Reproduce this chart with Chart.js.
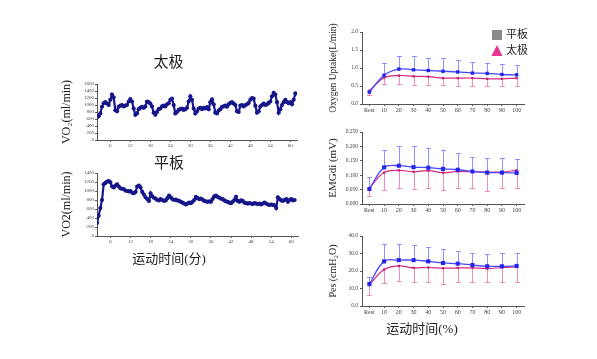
<!DOCTYPE html>
<html><head><meta charset="utf-8">
<script src="https://cdn.jsdelivr.net/npm/chart.js@4"></script>
<style>
html,body{margin:0;padding:0;background:#fff;width:597px;height:359px;overflow:hidden;position:relative}
canvas{position:absolute}
</style></head><body>
<canvas id="c1" style="left:40px;top:50px" width="265" height="110"></canvas>
<canvas id="c2" style="left:40px;top:150px" width="270" height="120"></canvas>
<canvas id="r1" style="left:320px;top:15px" width="222" height="100"></canvas>
<canvas id="r2" style="left:320px;top:120px" width="222" height="100"></canvas>
<canvas id="r3" style="left:320px;top:220px" width="222" height="120"></canvas>
<script>
// ---------- data ----------
const TIME_MIN = [
 2.0,2.5,3.0,3.5,4.0,4.5,5.0,5.5,6.0,6.5,
 7.0,7.5,8.0,8.5,9.0,9.5,10.0,10.5,11.0,11.5,
 12.0,12.5,13.0,13.5,14.0,14.5,15.0,15.5,16.0,16.5,
 17.0,17.5,18.0,18.5,19.0,19.5,20.0,20.5,21.0,21.5,
 22.0,22.5,23.0,23.5,24.0,24.5,25.0,25.5,26.0,26.5,
 27.0,27.5,28.0,28.5,29.0,29.5,30.0,30.5,31.0,31.5,
 32.0,32.5,33.0,33.5,34.0,34.5,35.0,35.5,36.0,36.5,
 37.0,37.5,38.0,38.5,39.0,39.5,40.0,40.5,41.0,41.5,
 42.0,42.5,43.0,43.5,44.0,44.5,45.0,45.5,46.0,46.5,
 47.0,47.5,48.0,48.5,49.0,49.5,50.0,50.5,51.0,51.5,
 52.0,52.5,53.0,53.5,54.0,54.5,55.0,55.5,56.0,56.5,
 57.0,57.5,58.0,58.5,59.0,59.5,60.0,60.5,61.0,61.5];
const TAIJI_VO2 = [
 650,680,760,950,1050,1080,1040,1000,1150,1300,
 1220,850,820,950,980,1000,960,980,1000,1100,
 1170,1100,900,720,760,880,920,950,920,960,
 1100,1080,1040,960,780,720,800,880,900,960,
 980,960,1020,1050,1150,1180,1000,760,800,860,
 880,900,860,880,920,1100,1250,1150,900,760,
 820,900,920,880,920,900,940,880,1080,1160,
 1020,780,760,840,880,950,960,980,950,1020,
 1060,1080,1040,1000,820,800,980,1000,960,1000,
 1020,1060,1150,1200,1180,980,780,820,960,1000,
 1040,1000,1020,1060,1100,1250,1350,1300,1080,780,
 880,1000,1080,1150,1080,1050,1080,1020,1150,1330];
const PINGBAN_VO2 = [
 290,450,620,800,1150,1180,1210,1220,1190,1100,
 1080,1120,1150,1100,1060,1050,1040,1010,1000,990,
 1000,960,950,980,1100,1120,1080,980,920,860,
 820,780,950,880,850,830,800,790,820,800,
 780,790,840,900,860,820,800,810,790,780,
 760,740,720,700,720,740,730,760,800,870,
 840,820,830,810,780,770,760,770,760,820,
 880,900,870,850,830,820,790,770,760,740,
 730,760,800,870,780,760,790,780,740,730,
 720,730,720,710,730,720,710,720,700,720,
 740,720,700,690,700,690,680,620,860,820,
 790,780,800,820,760,800,820,790,800,null];
const TIME_TICKS = [6,12,18,24,30,36,42,48,54,60];
const VO2_TICKS_TAIJI = [0,200,400,600,800,1000,1200,1400,1600];
const VO2_TICKS_PINGBAN = [0,200,400,600,800,1000,1200,1400];

const PCT_LABELS = ['Rest','10','20','30','40','50','60','70','80','90','100'];
const LEGEND_LABELS = ['平板','太极'];
const OXY_PB    = [0.33,0.80,0.97,0.95,0.93,0.91,0.89,0.86,0.85,0.82,0.81];
const OXY_PB_UP = [0.37,1.15,1.33,1.34,1.29,1.27,1.22,1.16,1.14,1.11,1.08];
const OXY_TJ    = [0.37,0.73,0.79,0.77,0.76,0.72,0.72,0.72,0.70,0.70,0.72];
const OXY_TJ_LO = [0.26,0.55,0.56,0.54,0.53,0.52,0.49,0.51,0.49,0.49,0.49];
const OXY_TICKS = [0,0.5,1.0,1.5,2.0];
const EMG_PB    = [0.052,0.127,0.133,0.128,0.126,0.122,0.119,0.113,0.109,0.109,0.108];
const EMG_PB_UP = [0.093,0.189,0.202,0.202,0.196,0.187,0.177,0.163,0.158,0.158,0.157];
const EMG_TJ    = [0.055,0.109,0.117,0.112,0.116,0.109,0.113,0.112,0.111,0.111,0.117];
const EMG_TJ_LO = [0.028,0.049,0.055,0.052,0.055,0.050,0.055,0.057,0.045,0.055,0.055];
const EMG_TICKS = [0,0.05,0.1,0.15,0.2,0.25];
const PES_PB    = [12.5,25.5,26.2,26.2,25.5,24.6,24.2,23.4,22.7,22.7,22.9];
const PES_PB_UP = [16.7,35.2,35.3,34.6,33.5,32.4,31.3,30.5,29.6,30.1,30.3];
const PES_TJ    = [12.0,20.8,22.9,21.8,22.0,21.6,21.8,21.8,21.4,22.0,22.3];
const PES_TJ_LO = [6.3,13.4,14.5,14.0,14.0,12.3,13.6,14.0,14.0,14.0,14.0];
const PES_TICKS = [0,10,20,30,40];

// ---------- style ----------
const SERIF = '"Liberation Serif","Noto Sans CJK SC",serif';
Chart.defaults.font.family = SERIF;
Chart.defaults.color = '#333';
Chart.defaults.animation = false;
const AX = '#555';
const NAVY = '#16168a';

const errBars = {
  id: 'errBars',
  beforeDatasetsDraw(chart) {
    const ctx = chart.ctx, y = chart.scales.y;
    chart.data.datasets.forEach((ds, i) => {
      if (!ds.errTo) return;
      const meta = chart.getDatasetMeta(i);
      ctx.save();
      ctx.strokeStyle = ds.errColor; ctx.lineWidth = 1;
      meta.data.forEach((pt, j) => {
        const v = ds.errTo[j]; if (v == null) return;
        const yy = Math.round(y.getPixelForValue(v)) + 0.5;
        const xx = Math.round(pt.x) + 0.5;
        ctx.beginPath();
        ctx.moveTo(xx, pt.y); ctx.lineTo(xx, yy);
        ctx.moveTo(xx - 2.5, yy); ctx.lineTo(xx + 2.5, yy);
        ctx.stroke();
      });
      ctx.restore();
    });
  }
};

const legendPlug = {
  id: 'legendPlug',
  afterDraw(chart) {
    const ctx = chart.ctx;
    ctx.save();
    ctx.fillStyle = '#8a8a8a';
    ctx.fillRect(172, 15, 10, 10);
    ctx.fillStyle = '#e8358f';
    ctx.beginPath(); ctx.moveTo(177, 30); ctx.lineTo(182.5, 41); ctx.lineTo(171.5, 41); ctx.closePath(); ctx.fill();
    ctx.fillStyle = '#222';
    ctx.font = '11px ' + SERIF;
    ctx.textBaseline = 'middle';
    ctx.fillText(LEGEND_LABELS[0], 186, 20);
    ctx.fillText(LEGEND_LABELS[1], 186, 36);
    ctx.restore();
  }
};

function tsChart(id, title, titlePad, sub, vals, yTicks, yTitle, padRight, xH) {
  const plugins = {
    legend: {display: false}, tooltip: {enabled: false},
    title: {display: true, text: title, color: '#222', font: {size: 15, weight: 'normal', lineHeight: 1.1}, padding: titlePad},
    subtitle: sub ? {display: true, position: 'bottom', text: sub, color: '#222', font: {size: 13, weight: 'normal', lineHeight: 1.1}, padding: {top: 2.7, bottom: 3}} : {display: false}
  };
  return new Chart(document.getElementById(id), {
    type: 'line',
    data: {datasets: [{
      data: TIME_MIN.map((t, i) => ({x: t, y: vals[i]})).filter(p => p.y != null),
      borderColor: NAVY, backgroundColor: NAVY, borderWidth: 2.2,
      pointRadius: 2.1, pointBorderWidth: 0, tension: 0
    }]},
    options: {
      responsive: false, animation: false,
      layout: {padding: {left: 0, right: padRight, top: 0, bottom: 0}},
      plugins,
      scales: {
        x: {type: 'linear', min: 2, max: 62,
          afterBuildTicks: s => { s.ticks = TIME_TICKS.map(v => ({value: v})); },
          afterFit: s => { s.height = xH; },
          ticks: {font: {size: 5}, padding: 1, maxRotation: 0, autoSkip: false, color: '#444', callback: v => String(v)},
          grid: {drawOnChartArea: false, tickLength: 2, color: AX},
          border: {color: AX}},
        y: {min: 0, max: yTicks[yTicks.length - 1],
          afterBuildTicks: s => { s.ticks = yTicks.map(v => ({value: v})); },
          afterFit: s => { s.width = 57; },
          ticks: {font: {size: 5}, padding: 1, color: '#444', autoSkip: false, callback: v => String(v)},
          grid: {drawOnChartArea: false, tickLength: 2, color: AX},
          border: {color: AX},
          title: {display: true, text: yTitle, color: '#222', font: {size: 12}, padding: {top: 20, bottom: 0}}}
      }
    }
  });
}

tsChart('c1', '太极', {top: 5, bottom: 12.5}, null, TAIJI_VO2, VO2_TICKS_TAIJI, 'VO₂(ml/min)', 8, 20);
tsChart('c2', '平板', {top: 6, bottom: 0.5}, '运动时间(分)', PINGBAN_VO2, VO2_TICKS_PINGBAN, 'VO2(ml/min)', 12, 14);

function profChart(id, pb, pbUp, tj, tjLo, yTicks, dec, yTitle, yTitleSize, yTitlePad, padTop, xH, sub, extra, blueR) {
  return new Chart(document.getElementById(id), {
    type: 'line',
    data: {labels: PCT_LABELS, datasets: [
      {data: pb, errTo: pbUp, errColor: 'rgba(110,110,255,0.75)',
       borderColor: '#4848ff', borderWidth: 1.3, tension: 0.4,
       pointStyle: 'rect', pointRadius: blueR, pointBackgroundColor: '#2424ee', pointBorderColor: '#2424ee', pointBorderWidth: 0},
      {data: tj, errTo: tjLo, errColor: 'rgba(236,120,175,0.85)',
       borderColor: '#d62a82', borderWidth: 1.2, tension: 0.4,
       pointStyle: 'rect', pointRadius: 1.6, pointBackgroundColor: '#c01f70', pointBorderColor: '#c01f70', pointBorderWidth: 0}
    ]},
    plugins: extra ? [errBars, extra] : [errBars],
    options: {
      responsive: false, animation: false,
      layout: {padding: {left: 0, right: 18, top: padTop, bottom: 0}},
      plugins: {
        legend: {display: false}, tooltip: {enabled: false}, title: {display: false},
        subtitle: sub ? {display: true, position: 'bottom', text: sub, color: '#222', font: {size: 13, weight: 'normal', lineHeight: 1.1}, padding: {top: 2.85, bottom: 2.85}} : {display: false}
      },
      scales: {
        x: {type: 'category', offset: true,
          afterFit: s => { s.height = xH; },
          ticks: {font: {size: 6}, padding: 1, maxRotation: 0, autoSkip: false, color: '#444'},
          grid: {offset: false, drawOnChartArea: false, tickLength: 2, color: AX},
          border: {color: AX}},
        y: {min: 0, max: yTicks[yTicks.length - 1],
          afterBuildTicks: s => { s.ticks = yTicks.map(v => ({value: v})); },
          afterFit: s => { s.width = 42; },
          ticks: {font: {size: 5.5}, padding: 2, color: '#444', autoSkip: false, callback: v => Number(v).toFixed(dec)},
          grid: {drawOnChartArea: false, tickLength: 2, color: AX},
          border: {color: AX},
          title: {display: true, text: yTitle, color: '#222', font: {size: yTitleSize}, padding: {top: yTitlePad, bottom: 0}}}
      }
    }
  });
}

profChart('r1', OXY_PB, OXY_PB_UP, OXY_TJ, OXY_TJ_LO, OXY_TICKS, 1, 'Oxygen Uptake(L/min)', 9.5, 7.3, 17, 11, null, legendPlug, 2.4);
profChart('r2', EMG_PB, EMG_PB_UP, EMG_TJ, EMG_TJ_LO, EMG_TICKS, 3, 'EMGdi (mV)', 11, 6.4, 12, 16, null, null, 2.9);
profChart('r3', PES_PB, PES_PB_UP, PES_TJ, PES_TJ_LO, PES_TICKS, 1, 'Pes (cmH₂O)', 10, 7, 16, 14, '运动时间(%)', null, 2.9);
</script>
</body></html>
